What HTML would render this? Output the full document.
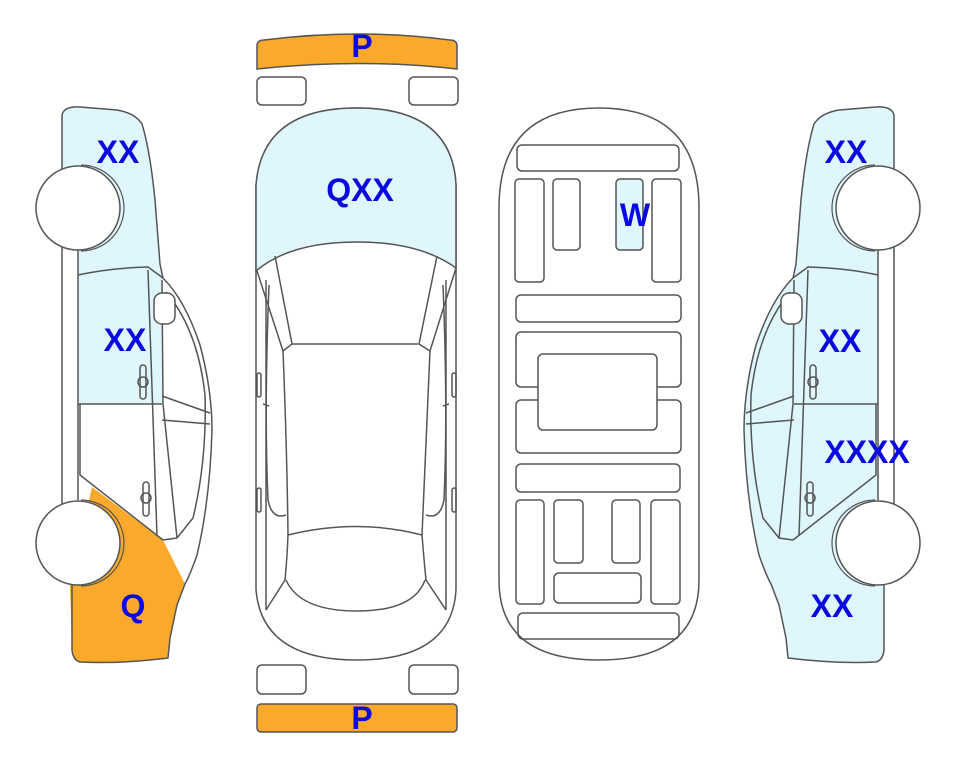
<!DOCTYPE html>
<html><head><meta charset="utf-8"><style>
html,body{margin:0;padding:0;background:#fff;}
svg{display:block}
text{font-family:"Liberation Sans",sans-serif;font-weight:bold;fill:#0a0ae0;font-size:32px;text-anchor:middle}
</style></head><body>
<svg width="963" height="768" viewBox="0 0 963 768" xmlns="http://www.w3.org/2000/svg">

<!-- LEFT SIDE CAR -->
<g>
  <path d="M62,115 Q64,106 80,107 L117,110 Q135,113 142,124 Q150,150 155,200 L160,264 L163,278 L162,404 L78,404 L78,250 L62,250 Z" fill="#dff6fd"/>
  <path d="M92,487 L163,540 L185,584 L177,605 L170,638 L168,658 Q120,664 80,662 Q73,660 72,650 L70,584 Z" fill="#fba92a"/>
  <g stroke="#555" stroke-width="1.5" fill="none">
    <path d="M62,115 Q64,106 80,107 L117,110 Q135,113 142,124 Q150,150 155,200 L160,264 L163,278 Q185,300 200,345 Q212,390 212,430 Q210,500 197,555 Q190,575 185,584 L177,605 L170,638 L168,658 Q120,664 80,662 Q73,660 72,650 L72,584"/>
    <path d="M62,115 L62,505"/>
    <path d="M78,250 L78,500"/>
    <path d="M78,275 Q110,268 148,267 L163,278"/>
    <path d="M78,404 L162,404"/>
    <path d="M148,270 L157,536"/>
    <path d="M162,280 L163,404 L177,538"/>
    <path d="M166,292 Q198,330 205,395 Q207,460 193,518 L177,538 L163,540"/>
    <path d="M162,396 L210,413"/>
    <path d="M162,420 L210,424"/>
    <path d="M80,404 L80,475 L163,540"/>
    <rect x="154" y="293" width="21" height="31" rx="8" fill="#fff"/>
    <rect x="140" y="365" width="6" height="34" rx="3"/>
    <circle cx="143" cy="382" r="5"/>
    <rect x="143" y="482" width="6" height="34" rx="3"/>
    <circle cx="146" cy="498" r="5"/>
  </g>
  <circle cx="78" cy="208" r="42" fill="#fff" stroke="#555" stroke-width="1.5"/>
  <circle cx="78" cy="543" r="42" fill="#fff" stroke="#555" stroke-width="1.5"/>
  <path d="M78,165 A43,43 0 0 1 78,251 M78,500 A43,43 0 0 1 78,586" fill="none" stroke="#555" stroke-width="1.2" transform="translate(3,0)"/>
</g>

<!-- RIGHT SIDE CAR (mirror) -->
<g transform="translate(956,0) scale(-1,1)">
  <path d="M62,115 Q64,106 80,107 L117,110 Q135,113 142,124 Q150,150 155,200 L160,264 L163,278 Q185,300 200,345 Q212,390 212,430 Q210,500 197,555 Q190,575 185,584 L177,605 L170,638 L168,658 Q120,664 80,662 Q73,660 72,650 L72,584 L62,500 L62,245 Z" fill="#dff6fd"/>
  <rect x="62" y="250" width="16" height="255" fill="#fff"/>
  <g stroke="#555" stroke-width="1.5" fill="none">
    <path d="M62,115 Q64,106 80,107 L117,110 Q135,113 142,124 Q150,150 155,200 L160,264 L163,278 Q185,300 200,345 Q212,390 212,430 Q210,500 197,555 Q190,575 185,584 L177,605 L170,638 L168,658 Q120,664 80,662 Q73,660 72,650 L72,584"/>
    <path d="M62,115 L62,505"/>
    <path d="M78,250 L78,500"/>
    <path d="M78,275 Q110,268 148,267 L163,278"/>
    <path d="M78,404 L162,404"/>
    <path d="M148,270 L157,536"/>
    <path d="M162,280 L163,404 L177,538"/>
    <path d="M166,292 Q198,330 205,395 Q207,460 193,518 L177,538 L163,540"/>
    <path d="M162,396 L210,413"/>
    <path d="M162,420 L210,424"/>
    <path d="M80,404 L80,475 L163,540"/>
    <rect x="154" y="293" width="21" height="31" rx="8" fill="#fff"/>
    <rect x="140" y="365" width="6" height="34" rx="3"/>
    <circle cx="143" cy="382" r="5"/>
    <rect x="143" y="482" width="6" height="34" rx="3"/>
    <circle cx="146" cy="498" r="5"/>
  </g>
  <circle cx="78" cy="208" r="42" fill="#fff" stroke="#555" stroke-width="1.5"/>
  <circle cx="78" cy="543" r="42" fill="#fff" stroke="#555" stroke-width="1.5"/>
  <path d="M78,165 A43,43 0 0 1 78,251 M78,500 A43,43 0 0 1 78,586" fill="none" stroke="#555" stroke-width="1.2" transform="translate(3,0)"/>
</g>

<!-- TOP VIEW CAR -->
<g stroke="#555" stroke-width="1.5">
  <path d="M257,46 Q257,40 264,40 Q360,28 450,40 Q457,40 457,46 L457,69 Q360,58 257,69 Z" fill="#fba92a"/>
  <rect x="257" y="77" width="49" height="28" rx="5" fill="#fff"/>
  <rect x="409" y="77" width="49" height="28" rx="5" fill="#fff"/>
  <rect x="257" y="665" width="49" height="29" rx="5" fill="#fff"/>
  <rect x="409" y="665" width="49" height="29" rx="5" fill="#fff"/>
  <rect x="257" y="704" width="200" height="28" rx="4" fill="#fba92a"/>
  <path d="M256,185 Q262,108 357,108 Q452,108 456,185 L456,590 Q452,660 357,660 Q262,660 256,590 Z" fill="#fff"/>
  <path d="M256,185 Q262,108 357,108 Q452,108 456,185 L456,268 Q420,242 357,242 Q290,242 256,271 Z" fill="#dff6fd"/>
  <g fill="none">
    <path d="M257,271 L283,351 L292,344 L275,256"/>
    <path d="M456,268 L430,351 L419,344 L437,256"/>
    <path d="M292,344 L418,344"/>
    <path d="M283,351 Q287,450 288,535 Q287,560 285,580"/>
    <path d="M430,351 Q426,450 422,535 Q424,560 426,580"/>
    <path d="M288,535 Q357,518 422,535"/>
    <path d="M286,580 Q300,611 357,611 Q414,611 425,580"/>
    <path d="M266,280 L266,610"/>
    <path d="M446,280 L446,610"/>
    <path d="M269,285 Q264,410 268,500 Q272,520 286,515"/>
    <path d="M443,285 Q448,410 444,500 Q440,520 426,515"/>
    <path d="M266,610 L285,580 M446,610 L426,580"/>
    <path d="M263,404 L269,406 M449,404 L443,406"/>
    <rect x="257" y="373" width="4" height="24" rx="2"/>
    <rect x="452" y="373" width="4" height="24" rx="2"/>
    <rect x="257" y="488" width="4" height="24" rx="2"/>
    <rect x="452" y="488" width="4" height="24" rx="2"/>
  </g>
</g>

<!-- FLOOR PLAN -->
<g stroke="#555" stroke-width="1.5" fill="none">
  <path d="M499,208 Q499,108 599,108 Q699,108 699,208 L699,580 Q699,660 599,660 Q499,660 499,580 Z" fill="#fff"/>
  <rect x="517" y="145" width="162" height="26" rx="5"/>
  <rect x="515" y="179" width="29" height="103" rx="4"/>
  <rect x="553" y="179" width="27" height="71" rx="4"/>
  <rect x="616" y="179" width="27" height="71" rx="4" fill="#dff6fd"/>
  <rect x="652" y="179" width="29" height="103" rx="4"/>
  <rect x="516" y="295" width="165" height="27" rx="5"/>
  <rect x="516" y="332" width="165" height="55" rx="5"/>
  <rect x="516" y="400" width="165" height="53" rx="5"/>
  <rect x="538" y="354" width="119" height="76" rx="5" fill="#fff"/>
  <rect x="516" y="464" width="164" height="28" rx="5"/>
  <rect x="516" y="500" width="28" height="104" rx="4"/>
  <rect x="554" y="500" width="29" height="63" rx="4"/>
  <rect x="612" y="500" width="28" height="63" rx="4"/>
  <rect x="651" y="500" width="29" height="104" rx="4"/>
  <rect x="554" y="573" width="87" height="30" rx="5"/>
  <rect x="518" y="613" width="161" height="26" rx="5"/>
</g>

<!-- LABELS -->
<text x="118" y="163">XX</text>
<text x="125" y="351">XX</text>
<text x="133" y="617">Q</text>
<text x="360" y="201">QXX</text>
<text x="362" y="57">P</text>
<text x="362" y="729">P</text>
<text x="635" y="226">W</text>
<text x="846" y="163">XX</text>
<text x="840" y="352">XX</text>
<text x="867" y="463">XXXX</text>
<text x="832" y="617">XX</text>
</svg>
</body></html>
